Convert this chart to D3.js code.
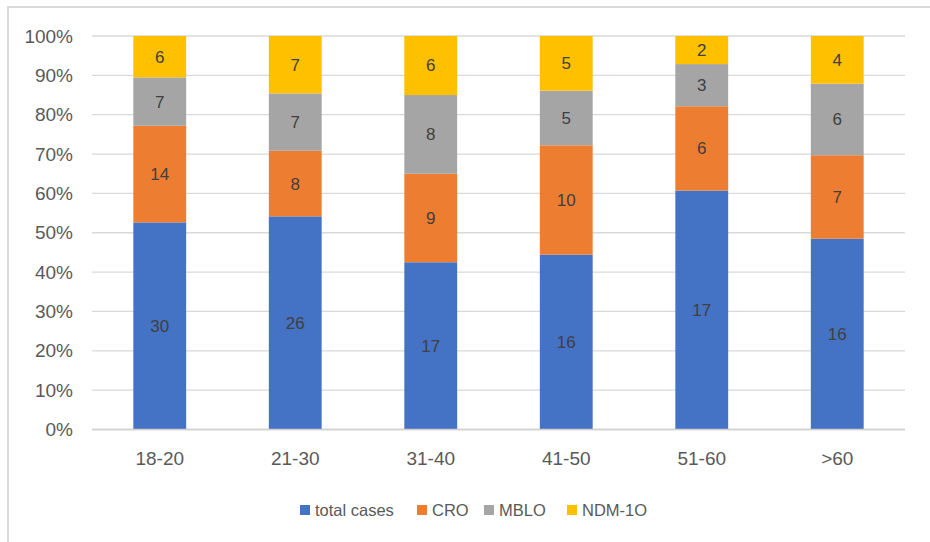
<!DOCTYPE html>
<html>
<head>
<meta charset="utf-8">
<script src="https://cdn.jsdelivr.net/npm/d3@7"></script>
<style>
  html, body { margin: 0; padding: 0; background: #fff; }
  svg { display: block; font-family: "Liberation Sans", Arial, sans-serif; }
</style>
</head>
<body>
<svg id="chart" width="930" height="542"></svg>
<script>
// Age groups and case counts per series
const categories = ["18-20", "21-30", "31-40", "41-50", "51-60", ">60"];
const seriesNames = ["total cases", "CRO", "MBLO", "NDM-1O"];
const totalCases = [30, 26, 17, 16, 17, 16];
const cro = [14, 8, 9, 10, 6, 7];
const mblo = [7, 7, 8, 5, 3, 6];
const ndm = [6, 7, 6, 5, 2, 4];
const yTicks = [0, 0.1, 0.2, 0.3, 0.4, 0.5, 0.6, 0.7, 0.8, 0.9, 1];
const colors = ["#4472C4", "#ED7D31", "#A5A5A5", "#FFC000"];

const seriesValues = [totalCases, cro, mblo, ndm];
const rows = categories.map((c, i) => {
  const r = { cat: c };
  seriesNames.forEach((s, j) => r[s] = seriesValues[j][i]);
  return r;
});

const svg = d3.select("#chart");

// outer frame
svg.append("rect")
  .attr("x", 8).attr("y", 7).attr("width", 940).attr("height", 560)
  .attr("fill", "none").attr("stroke", "#d9d9d9").attr("stroke-width", 2);

const x = d3.scaleBand().domain(categories).range([92, 905]).paddingInner(0.61).paddingOuter(0.305);
const y = d3.scaleLinear().domain([0, 1]).range([429.5, 36]);

// gridlines
svg.append("g").selectAll("line").data(yTicks).join("line")
  .attr("x1", 92).attr("x2", 905)
  .attr("y1", d => y(d)).attr("y2", d => y(d))
  .attr("stroke", "#d9d9d9").attr("stroke-width", 1.3);

// y tick labels
svg.append("g").selectAll("text").data(yTicks).join("text")
  .attr("x", 73).attr("y", d => y(d)).attr("dy", "0.35em")
  .attr("text-anchor", "end").attr("fill", "#595959").attr("font-size", 19)
  .text(d => d3.format(".0%")(d));

// stacked, normalised
const stack = d3.stack().keys(seriesNames).offset(d3.stackOffsetExpand);
const layers = stack(rows);

const g = svg.append("g");
layers.forEach((layer, j) => {
  const lg = g.append("g");
  lg.selectAll("rect").data(layer).join("rect")
    .attr("x", d => x(d.data.cat))
    .attr("width", x.bandwidth())
    .attr("y", d => y(d[1]))
    .attr("height", d => y(d[0]) - y(d[1]))
    .attr("fill", colors[j]);
  lg.selectAll("text").data(layer).join("text")
    .attr("x", d => x(d.data.cat) + x.bandwidth() / 2)
    .attr("y", d => (y(d[0]) + y(d[1])) / 2)
    .attr("dy", "0.35em")
    .attr("text-anchor", "middle").attr("fill", "#404040").attr("font-size", 17)
    .text(d => d.data[layer.key]);
});

// x axis line
svg.append("line").attr("x1", 92).attr("x2", 905)
  .attr("y1", y(0)).attr("y2", y(0)).attr("stroke", "#d0d0d0").attr("stroke-width", 1.3);

// category labels
svg.append("g").selectAll("text").data(categories).join("text")
  .attr("x", d => x(d) + x.bandwidth() / 2).attr("y", 465)
  .attr("text-anchor", "middle").attr("fill", "#595959").attr("font-size", 19)
  .text(d => d);

// legend
const legendX = [300, 417, 484, 567];
const lg = svg.append("g");
seriesNames.forEach((s, j) => {
  lg.append("rect").attr("x", legendX[j]).attr("y", 505).attr("width", 10).attr("height", 10)
    .attr("fill", colors[j]);
  lg.append("text").attr("x", legendX[j] + 15).attr("y", 510).attr("dy", "0.35em")
    .attr("fill", "#595959").attr("font-size", 16.5).text(s);
});
</script>
</body>
</html>
